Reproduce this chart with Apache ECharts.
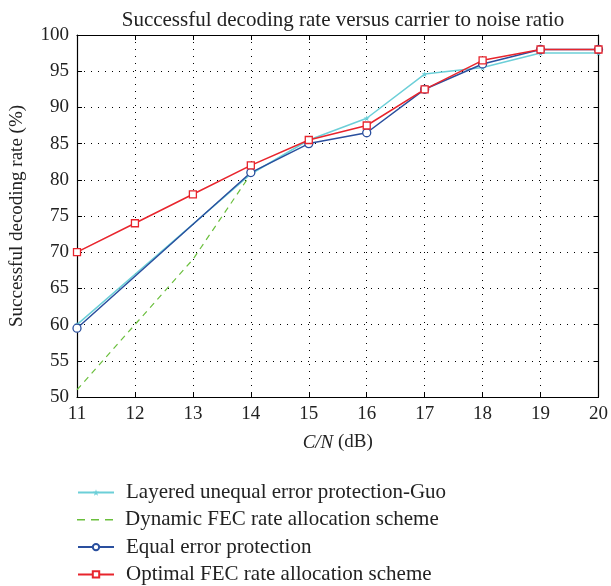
<!DOCTYPE html>
<html><head><meta charset="utf-8">
<script src="https://cdn.jsdelivr.net/npm/echarts@6/dist/echarts.min.js"></script>
<style>html,body{margin:0;padding:0;background:#fff}#c{width:611px;height:586px}</style>
</head><body><div id="c"></div>
<script>
const seriesNames = ['Layered unequal error protection-Guo','Dynamic FEC rate allocation scheme','Equal error protection','Optimal FEC rate allocation scheme'];
const guoX = [11,14,15,16,17,18,19,20];
const guoY = [60,80.8,85.5,88.5,94.6,95.5,97.5,97.5];
const dynX = [11,12,13,14];
const dynY = [51,60,69,80.8];
const eepX = [11,14,15,16,17,18,19,20];
const eepY = [59.5,81,85,86.5,92.5,96,98,98];
const optX = [11,12,13,14,15,16,17,18,19,20];
const optY = [70,74,78,82,85.5,87.5,92.5,96.5,98,98];
const xTicks = [11,12,13,14,15,16,17,18,19,20];
const yTicks = [50,55,60,65,70,75,80,85,90,95,100];

const pair = (xs, ys) => xs.map((x,i)=>[x, ys[i]]);
const font = 'Liberation Serif, DejaVu Serif, serif';
const chart = echarts.init(document.getElementById('c'));
const axisCommon = {
  axisLine:{show:true,lineStyle:{color:'#000',width:1.2}},
  axisTick:{show:true,inside:true,length:5,lineStyle:{color:'#000'}},
};
const starPath = 'path://M0,-5L1.2,-1.6L5,-1.6L2,0.6L3.1,4.2L0,2L-3.1,4.2L-2,0.6L-5,-1.6L-1.2,-1.6Z';
const dashIcon = 'path://M0,3.2h8v1.6h-8zM14,3.2h8v1.6h-8zM28,3.2h8v1.6h-8zM0,0h0.01v0.01h-0.01zM35.99,7.99h0.01v0.01h-0.01z';
const legendIcons = [null, dashIcon, null, null];
const legends = seriesNames.map((n, i) => ({
  left:77, top:482 + i*27.3, padding:0, itemWidth:36, itemHeight:8,
  textStyle:{fontFamily:font,fontSize:21,color:'#222',padding:[0,0,0,7]},
  data:[legendIcons[i] ? {name:n, icon:legendIcons[i]} : {name:n}]
}));
chart.setOption({
  animation:false,
  textStyle:{fontFamily:font},
  title:{text:'Successful decoding rate versus carrier to noise ratio',left:338,textAlign:'center',top:5,
    textStyle:{fontFamily:font,fontWeight:'normal',fontSize:21,color:'#222'}},
  grid:{left:77,right:11,top:35,bottom:189},
  xAxis:[{type:'value',min:11,max:20,interval:1,...axisCommon,
    axisLabel:{fontFamily:font,fontSize:19,color:'#222',margin:8},
    splitLine:{show:true,lineStyle:{color:'#000',type:[1,6],width:1}},
    name:'{i|C/N} (dB)',nameLocation:'middle',nameGap:36,
    nameTextStyle:{fontFamily:font,fontSize:19,color:'#222',rich:{i:{fontStyle:'italic',fontFamily:font,fontSize:19,color:'#222'}}}},
    {type:'value',position:'top',min:11,max:20,interval:1,...axisCommon,axisLabel:{show:false},splitLine:{show:false}}],
  yAxis:[{type:'value',min:50,max:100,interval:5,...axisCommon,
    axisLabel:{fontFamily:font,fontSize:19,color:'#222',margin:8},
    splitLine:{show:true,lineStyle:{color:'#000',type:[1,6],width:1}},
    name:'Successful decoding rate (%)',nameLocation:'middle',nameGap:50,
    nameTextStyle:{fontFamily:font,fontSize:19,color:'#222'}},
    {type:'value',position:'right',min:50,max:100,interval:5,...axisCommon,axisLabel:{show:false},splitLine:{show:false}}],
  legend:legends,
  series:[
    {name:seriesNames[0],type:'line',data:pair(guoX,guoY),symbol:starPath,symbolSize:6,
      lineStyle:{color:'#6ccfd8',width:1.5},itemStyle:{color:'#6ccfd8'},z:2},
    {name:seriesNames[1],type:'line',data:pair(dynX,dynY),symbol:'none',
      lineStyle:{color:'#6abf3c',width:1.2,type:[6,5]},itemStyle:{color:'#6abf3c'},z:1},
    {name:seriesNames[2],type:'line',data:pair(eepX,eepY),symbol:'circle',symbolSize:8,
      lineStyle:{color:'#2a4f9e',width:1.5},itemStyle:{color:'#fff',borderColor:'#2a4f9e',borderWidth:1.3},z:3},
    {name:seriesNames[3],type:'line',data:pair(optX,optY),symbol:'rect',symbolSize:7,
      lineStyle:{color:'#e8242c',width:1.5},itemStyle:{color:'#fff',borderColor:'#e8242c',borderWidth:1.3},z:4}
  ]
});
</script></body></html>
